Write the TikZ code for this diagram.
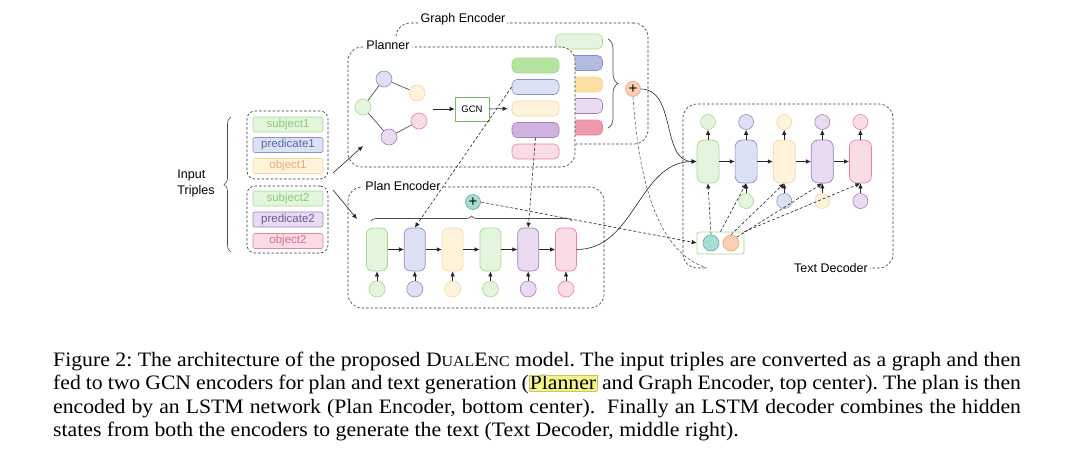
\documentclass[tikz,border=0pt]{standalone}
\usepackage{graphicx}
\usepackage{fontspec}
\setmainfont{Liberation Serif}
\setsansfont{Liberation Sans}
\usetikzlibrary{arrows.meta,positioning,calc,decorations.pathreplacing}

% palette: L = light fill, S = strong fill, D = border, T = text
\definecolor{gL}{HTML}{E3F5DC}\definecolor{gS}{HTML}{B6E3A0}\definecolor{gD}{HTML}{A6D98F}\definecolor{gT}{HTML}{8FCB78}
\definecolor{bL}{HTML}{DDE1F4}\definecolor{bS}{HTML}{B4BBE0}\definecolor{bD}{HTML}{8891C8}\definecolor{bT}{HTML}{5B68A8}
\definecolor{oL}{HTML}{FFF3DC}\definecolor{oS}{HTML}{FCDFA3}\definecolor{oD}{HTML}{F6D69E}\definecolor{oT}{HTML}{EFA779}
\definecolor{pL}{HTML}{E9DCF1}\definecolor{pS}{HTML}{D0B2E0}\definecolor{pD}{HTML}{A07EC0}\definecolor{pT}{HTML}{6A58A0}
\definecolor{rL}{HTML}{FADCE5}\definecolor{rS}{HTML}{EE9AAD}\definecolor{rD}{HTML}{E8849F}\definecolor{rT}{HTML}{DE6D8E}
\definecolor{tL}{HTML}{A9DDD3}\definecolor{tD}{HTML}{5DB0A3}
\definecolor{aL}{HTML}{FAD0B5}\definecolor{aD}{HTML}{F0A37A}
\definecolor{gcnD}{HTML}{7DB865}
\definecolor{hl}{HTML}{F3F58C}\definecolor{hlD}{HTML}{C9C95A}

\tikzset{
  grpbox/.style={draw=black!80, dash pattern=on 2.5pt off 2pt, rounded corners=14pt, line width=0.6pt},
  boxtitle/.style={fill=white, inner sep=2pt, font=\sffamily\fontsize{12.5}{14}\selectfont},
  triple/.style={rounded corners=2pt, minimum width=70pt, minimum height=15pt, inner sep=0pt, line width=0.6pt, font=\sffamily\fontsize{11.5}{13}\selectfont},
  bar/.style={rounded corners=5pt, minimum width=47pt, minimum height=15pt, inner sep=0pt, line width=0.6pt},
  cell/.style={rounded corners=6pt, minimum width=21pt, minimum height=43pt, inner sep=0pt, line width=0.7pt},
  dot/.style={circle, minimum size=16pt, inner sep=0pt, line width=0.6pt},
  plus/.style={circle, minimum size=15pt, inner sep=0pt, line width=0.6pt, font=\sffamily\fontsize{15}{15}\selectfont},
  flowarrow/.style={-{Latex[length=5pt,width=4.5pt]}, line width=0.6pt, draw=black!85},
  dasharrow/.style={flowarrow, dash pattern=on 3pt off 2pt},
  dashline/.style={line width=0.5pt, draw=black!75, dash pattern=on 3pt off 2pt},
  curly/.style={decorate, decoration={brace, amplitude=#1}, line width=0.7pt, draw=black!70},
  curly/.default=7pt,
}

\begin{document}
\begin{tikzpicture}[x=1pt, y=-1pt, font=\sffamily]
    \useasboundingbox (0,0) rectangle (1066,471);

    % input triples
    \node[align=left, font=\sffamily\fontsize{12.5}{16}\selectfont] (inp) at (196,183) {Input\\Triples};
    \draw[curly, line width=0.6pt] (231,252) -- (231,117);
    \node[grpbox, rounded corners=8pt, minimum width=81pt, minimum height=68pt] (grp1) at (287.5,145) {};
    \node[grpbox, rounded corners=8pt, minimum width=81pt, minimum height=67pt] (grp2) at (287.5,219.5) {};
    \node[triple, fill=gL, draw=gD, text=gT] (s1) at (288,124.5) {subject1};
    \node[triple, fill=bL, draw=bD, text=bT] (p1) at (288,145) {predicate1};
    \node[triple, fill=oL, draw=oD, text=oT] (o1) at (288,166) {object1};
    \node[triple, fill=gL, draw=gD, text=gT] (s2) at (288,198.5) {subject2};
    \node[triple, fill=pL, draw=pD, text=pT] (p2) at (288,219.5) {predicate2};
    \node[triple, fill=rL, draw=rD, text=rT] (o2) at (288,241) {object2};

    % graph encoder
    \node[grpbox, minimum width=252pt, minimum height=121pt] (genc) at (522,83.5) {};
    \node[boxtitle] (getitle) at (463,19) {Graph Encoder};
    \foreach \f/\d [count=\i] in {gL/gD, bS/bD, oS/oD, pL/pD, rS/rD}
        \node[bar, fill=\f, draw=\d] (gbar\i) at (579,{41.5+21.5*(\i-1)}) {};
    \draw[curly=10pt] (608,39) -- (608,128);
    \node[plus, fill=aL, draw=aD] (gsum) at (633,89) {+};

    % planner
    \node[grpbox, fill=white, minimum width=227pt, minimum height=120pt] (plan) at (461.5,107) {};
    \node[boxtitle] (pltitle) at (388,45) {Planner};
    \node[dot, fill=bL, draw=bD] (n1) at (384,79) {};
    \node[dot, fill=oL, draw=oD] (n2) at (417,93) {};
    \node[dot, fill=gL, draw=gD] (n3) at (363,107) {};
    \node[dot, fill=rL, draw=rD] (n4) at (419,121) {};
    \node[dot, fill=pL, draw=pD] (n5) at (389,137) {};
    \draw[black!75, line width=0.6pt] (n3) -- (n1) -- (n2);
    \draw[black!75, line width=0.6pt] (n3) -- (n5) -- (n4);
    \node[draw=gcnD, fill=white, line width=0.7pt, minimum width=34pt, minimum height=24pt, inner sep=0pt, font=\sffamily\fontsize{9.5}{11}\selectfont] (gcn) at (472,109) {GCN};
    \foreach \f/\d [count=\i] in {gS/gD, bL/bD, oL/oD, pS/pD, rL/rD}
        \node[bar, fill=\f, draw=\d] (pbar\i) at (535.5,{65.5+21.5*(\i-1)}) {};
    \coordinate (gin) at (433,109);
    \draw[flowarrow] (gin) -- (gcn.west);
    \draw[flowarrow, shorten >=4pt] (gcn.east) -- (pbar3.west);

    % plan encoder
    \node[grpbox, minimum width=256pt, minimum height=121pt] (penc) at (476,247.5) {};
    \node[boxtitle] (petitle) at (403,186) {Plan Encoder};
    \foreach \col [count=\i] in {g,b,o,g,p,r} {
        \node[cell, fill=\col L, draw=\col D] (ecell\i) at ({377+37.8*(\i-1)},249.5) {};
        \node[dot, fill=\col L, draw=\col D] (ein\i) at ({377+37.8*(\i-1)},289) {};
        \draw[flowarrow] (ein\i) -- (ecell\i);
    }
    \foreach \i [evaluate=\i as \j using int(\i+1)] in {1,...,5}
        \draw[flowarrow] (ecell\i) -- (ecell\j);
    \draw[curly=5pt] (371,221) -- (572,221);
    \node[plus, fill=tL, draw=tD] (psum) at (473,202) {+};

    % text decoder
    \draw[grpbox] (705,268) -| (683,104) -| (893,268) -- (870,268);
    \node[boxtitle] (tdtitle) at (831,268) {Text Decoder};
    \foreach \col [count=\i] in {g,b,o,p,r} {
        \node[cell, rounded corners=7pt, minimum width=22pt, fill=\col L, draw=\col D] (dcell\i) at ({708+38.1*(\i-1)},161.5) {};
        \node[dot, minimum size=15pt, fill=\col L, draw=\col D] (dout\i) at ({708+38.1*(\i-1)},122) {};
        \draw[flowarrow] (dcell\i) -- (dout\i);
    }
    \foreach \col [count=\i from 2] in {g,b,o,p} {
        \node[dot, minimum size=15pt, fill=\col L, draw=\col D] (din\i) at ({708+38.1*(\i-1)},201) {};
        \draw[flowarrow] (din\i) -- (dcell\i);
    }
    \foreach \i [evaluate=\i as \j using int(\i+1)] in {1,...,4}
        \draw[flowarrow] (dcell\i) -- (dcell\j);
    \node[draw=gD, fill=white, rounded corners=2pt, line width=0.7pt, minimum width=47pt, minimum height=22pt] (ibox) at (720.5,243) {};
    \node[dot, fill=tL, draw=tD] (ht) at (711,243) {};
    \node[dot, fill=aL, draw=aD] (hg) at (731,243) {};

    % connectors
    \coordinate (t1) at (333,173);
    \coordinate (pin) at (363,146);
    \coordinate (t2) at (333,190);
    \coordinate (pein) at (357,219);
    \coordinate (tdcorner) at (707,268);
    \draw[flowarrow] (t1) -- (pin);
    \draw[flowarrow] (t2) -- (pein);
    \draw[dasharrow] (pbar2.west) -- (ecell2.north);
    \draw[dasharrow] (pbar4.south) -- (ecell5.north);
    \draw[dasharrow] (psum.east) -- (ibox.west);
    \draw[flowarrow] (gsum.east) to[out=0, in=180] (dcell1.west);
    \draw[flowarrow] (ecell6.east) to[out=0, in=180] (dcell1.west);
    \draw[dashline] (gsum.south) .. controls (640,200) and (665,255) .. (tdcorner);
    \draw[dasharrow] (ht.north) -- (dcell1.south);
    \draw[dasharrow] (ibox.north) -- (dcell2.south);
    \draw[dasharrow] (hg.north) -- (dcell3.south);
    \draw[dasharrow] (hg.north east) -- (dcell4.south);
    \draw[dasharrow] (ibox.north east) -- (dcell5.south);

    % caption
    \node[anchor=north west, inner sep=0pt, font=\rmfamily] (caption) at (53,352) {\scalebox{1.06}[1]{\parbox{913pt}{\fontsize{20.5}{23.2}\selectfont\frenchspacing
        Figure 2: The architecture of the proposed D{\fontsize{15}{23}\selectfont UAL}E{\fontsize{15}{23}\selectfont NC} model. The input triples are converted as a graph and then\linebreak
        fed to two GCN encoders for plan and text generation ({\setlength{\fboxsep}{0.5pt}\setlength{\fboxrule}{0.4pt}\fcolorbox{hlD}{hl}{Planner}} and Graph Encoder, top center). The plan is then\linebreak
        encoded by an LSTM network (Plan Encoder, bottom center).\ \ Finally an LSTM decoder combines the hidden\linebreak
        states from both the encoders to generate the text (Text Decoder, middle right).}}};
\end{tikzpicture}
\end{document}
